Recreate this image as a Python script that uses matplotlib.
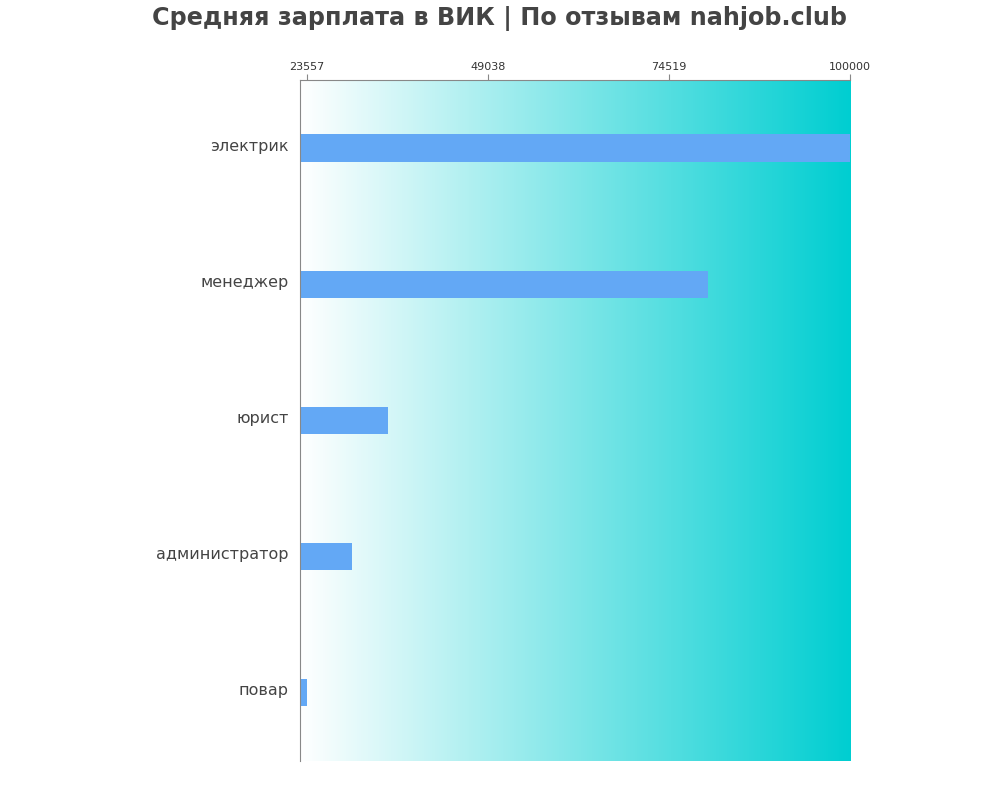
import matplotlib.pyplot as plt
import matplotlib.transforms as mtransforms
import numpy as np
from matplotlib.colors import LinearSegmentedColormap

jobs = ['электрик', 'менеджер', 'юрист', 'администратор', 'повар']
salary = [100000, 80000, 35000, 30000, 23557]
ticks = [23557, 49038, 74519, 100000]

fig = plt.figure(figsize=(10, 8), dpi=100)
ax = fig.add_axes([0.30, 0.049, 0.55, 0.851])

xmin = min(salary) * 0.96
xmax = max(salary)
y = np.arange(len(jobs))[::-1]

# gradient background
cmap = LinearSegmentedColormap.from_list('bg', ['#ffffff', '#00ced1'])
grad = np.linspace(0, 1, 256).reshape(1, -1)
ax.imshow(grad, cmap=cmap, aspect='auto', extent=[xmin, xmax, -0.5, len(jobs) - 0.5],
          interpolation='bilinear', zorder=0)

ax.barh(y, salary, left=0, height=0.2, color='#63a8f5', zorder=2)

ax.set_xlim(xmin, xmax)
ax.set_ylim(-0.5, len(jobs) - 0.5)
ax.set_yticks(y)
ax.set_yticklabels(jobs, fontsize=11.5, color='#444444')
ax.tick_params(axis='y', length=0, pad=8)
shift = mtransforms.ScaledTranslation(0, 2.5 / 72, fig.dpi_scale_trans)
for lab in ax.get_yticklabels():
    lab.set_transform(lab.get_transform() + shift)

ax.xaxis.tick_top()
ax.set_xticks(ticks)
ax.set_xticklabels([str(t) for t in ticks], fontsize=8, color='#333333')
ax.tick_params(axis='x', length=4, color='#888888', pad=2)

for s in ['right', 'bottom']:
    ax.spines[s].set_visible(False)
for s in ['left', 'top']:
    ax.spines[s].set_color('#888888')

fig.suptitle('Средняя зарплата в ВИК | По отзывам nahjob.club', fontsize=17.2,
             fontweight='bold', color='#444444', y=0.993)

fig.savefig('out.png')
